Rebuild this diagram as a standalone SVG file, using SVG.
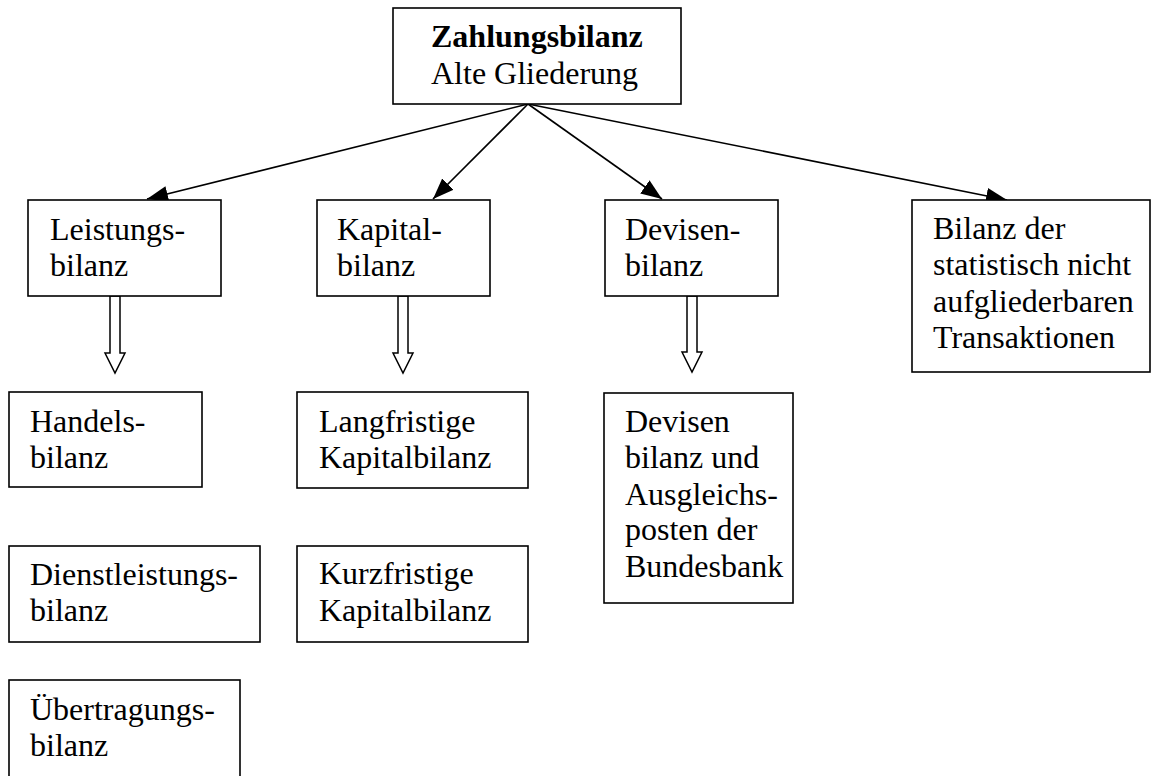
<svg xmlns="http://www.w3.org/2000/svg" width="1155" height="776" viewBox="0 0 1155 776">
<style>
.box{fill:#fff;stroke:#000;stroke-width:1.6}
.t{font-family:"Liberation Serif","Times New Roman",serif;font-size:32px;fill:#000}
.b{font-weight:bold}
.con{stroke:#000;stroke-width:1.6;fill:none}
.hollow{fill:#fff;stroke:#000;stroke-width:1.5;stroke-linejoin:miter}
</style>
<defs>
<marker id="ah" markerUnits="userSpaceOnUse" markerWidth="22" markerHeight="16" refX="21" refY="8" orient="auto">
<path d="M0,0 L21,8 L0,16 z" fill="#000"/>
</marker>
</defs>
<rect width="1155" height="776" fill="#fff"/>
<g id="connectors">
<line class="con" x1="528" y1="104" x2="147" y2="199" marker-end="url(#ah)"/>
<line class="con" x1="528" y1="104" x2="433" y2="199" marker-end="url(#ah)"/>
<line class="con" x1="528" y1="104" x2="662" y2="199" marker-end="url(#ah)"/>
<line class="con" x1="528" y1="104" x2="1007" y2="200" marker-end="url(#ah)"/>
<polygon class="hollow" points="110,296 120,296 120,353 125,353 115,373 105,353 110,353"/>
<polygon class="hollow" points="398,296 408,296 408,353 413,353 403,373 393,353 398,353"/>
<polygon class="hollow" points="687,296 697,296 697,352 702,352 692,372 682,352 687,352"/>
</g>
<g id="zahlungsbilanz">
<rect class="box" x="393" y="8" width="288" height="96"/>
<text class="t b" x="431" y="47">Zahlungsbilanz</text>
<text class="t" x="431" y="84">Alte Gliederung</text>
</g>
<g id="leistungsbilanz">
<rect class="box" x="28" y="200" width="193" height="96"/>
<text class="t" x="50" y="240">Leistungs-</text>
<text class="t" x="50" y="276">bilanz</text>
</g>
<g id="kapitalbilanz">
<rect class="box" x="317" y="200" width="173" height="96"/>
<text class="t" x="337" y="240">Kapital-</text>
<text class="t" x="337" y="276">bilanz</text>
</g>
<g id="devisenbilanz">
<rect class="box" x="605" y="200" width="173" height="96"/>
<text class="t" x="625" y="240">Devisen-</text>
<text class="t" x="625" y="276">bilanz</text>
</g>
<g id="restposten">
<rect class="box" x="912" y="200" width="238" height="172"/>
<text class="t" x="933" y="239">Bilanz der</text>
<text class="t" x="933" y="275">statistisch nicht</text>
<text class="t" x="933" y="312">aufgliederbaren</text>
<text class="t" x="933" y="348">Transaktionen</text>
</g>
<g id="handelsbilanz">
<rect class="box" x="9" y="392" width="193" height="95"/>
<text class="t" x="30" y="432">Handels-</text>
<text class="t" x="30" y="468">bilanz</text>
</g>
<g id="dienstleistungsbilanz">
<rect class="box" x="9" y="546" width="251" height="96"/>
<text class="t" x="30" y="585">Dienstleistungs-</text>
<text class="t" x="30" y="621">bilanz</text>
</g>
<g id="uebertragungsbilanz">
<rect class="box" x="9" y="680" width="231" height="110"/>
<text class="t" x="30" y="720">Übertragungs-</text>
<text class="t" x="30" y="756">bilanz</text>
</g>
<g id="langfristige">
<rect class="box" x="297" y="392" width="231" height="96"/>
<text class="t" x="319" y="432">Langfristige</text>
<text class="t" x="319" y="468">Kapitalbilanz</text>
</g>
<g id="kurzfristige">
<rect class="box" x="297" y="546" width="231" height="96"/>
<text class="t" x="319" y="584">Kurzfristige</text>
<text class="t" x="319" y="621">Kapitalbilanz</text>
</g>
<g id="devisen-ausgleich">
<rect class="box" x="604" y="393" width="189" height="210"/>
<text class="t" x="625" y="432">Devisen</text>
<text class="t" x="625" y="468">bilanz und</text>
<text class="t" x="625" y="505">Ausgleichs-</text>
<text class="t" x="625" y="540">posten der</text>
<text class="t" x="625" y="577">Bundesbank</text>
</g>
</svg>
